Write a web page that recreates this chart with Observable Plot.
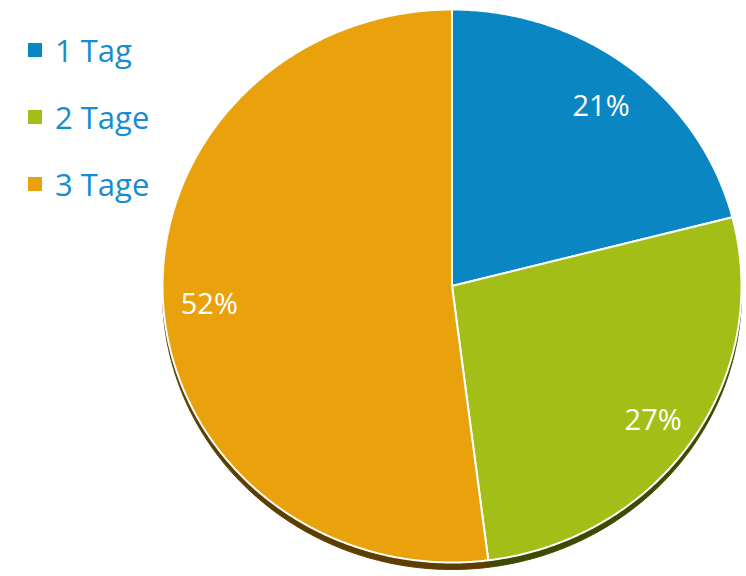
<!DOCTYPE html>
<html>
<head>
<meta charset="utf-8">
<script src="https://cdn.jsdelivr.net/npm/d3@7"></script>
<script src="https://cdn.jsdelivr.net/npm/@observablehq/plot@0.6"></script>
<style>
  html, body { margin: 0; padding: 0; background: #fff; }
  #wrap { position: relative; width: 746px; height: 576px; overflow: hidden; }
  #legend { position: absolute; left: 28px; top: 0; font-family: "Open Sans", sans-serif; font-size: 31px; color: #168dcf; }
  .row { position: absolute; left: 0; white-space: nowrap; display: flex; align-items: center; height: 40px; }
  .sw { width: 14px; height: 14px; margin-right: 13px; }
  #chart { position: absolute; left: 0; top: 0; }
</style>
</head>
<body>
<div id="wrap">
  <div id="chart"></div>
  <div id="legend"></div>
</div>
<script>
const categories = ["1 Tag", "2 Tage", "3 Tage"];
const values = [21, 27, 52];
const labels = ["21%", "27%", "52%"];
const colors = ["#0a87c2", "#a3bf17", "#e9a20b"];
const shadowColors = ["#23506a", "#3f4a00", "#5e3d00"];

const pie = d3.pie().sort(null).value(d => d)(values);

// slice outlines in unit coordinates (angle measured clockwise from top)
const slicePoints = pie.map((p, i) => {
  const pts = [{cat: categories[i], x: 0, y: 0}];
  const n = Math.max(2, Math.ceil((p.endAngle - p.startAngle) / (Math.PI / 360)));
  for (let k = 0; k <= n; k++) {
    const a = p.startAngle + (p.endAngle - p.startAngle) * k / n;
    pts.push({cat: categories[i], x: Math.sin(a), y: Math.cos(a)});
  }
  pts.push({cat: categories[i], x: 0, y: 0});
  return pts;
});

const labelR = 0.84;
const labelData = pie.map((p, i) => {
  const a = (p.startAngle + p.endAngle) / 2;
  return {label: labels[i], x: labelR * Math.sin(a), y: labelR * Math.cos(a)};
});

const marks = [];
slicePoints.forEach((pts, i) => {
  marks.push(Plot.line(pts, {x: "x", y: "y", fill: shadowColors[i], stroke: shadowColors[i], strokeWidth: 1, dy: 7}));
});
slicePoints.forEach((pts, i) => {
  marks.push(Plot.line(pts, {x: "x", y: "y", fill: colors[i], stroke: "white", strokeWidth: 2, strokeLinejoin: "round"}));
});
marks.push(Plot.text(labelData, {x: "x", y: "y", text: "label", fill: "white", fontSize: 29, fontFamily: "Open Sans", fontWeight: 400, dy: 4}));

const chart = Plot.plot({
  width: 746,
  height: 576,
  marginTop: 0, marginRight: 0, marginBottom: 0, marginLeft: 0,
  x: {domain: [-1, 1], range: [162, 741], axis: null},
  y: {domain: [-1, 1], range: [562, 9], axis: null},
  marks
});
document.getElementById("chart").appendChild(chart);

const legend = document.getElementById("legend");
categories.forEach((c, i) => {
  const row = document.createElement("div");
  row.className = "row";
  row.style.top = (30 + i * 67) + "px";
  const sw = document.createElement("div");
  sw.className = "sw";
  sw.style.background = colors[i];
  const t = document.createElement("span");
  t.textContent = c;
  row.appendChild(sw);
  row.appendChild(t);
  legend.appendChild(row);
});
</script>
</body>
</html>
